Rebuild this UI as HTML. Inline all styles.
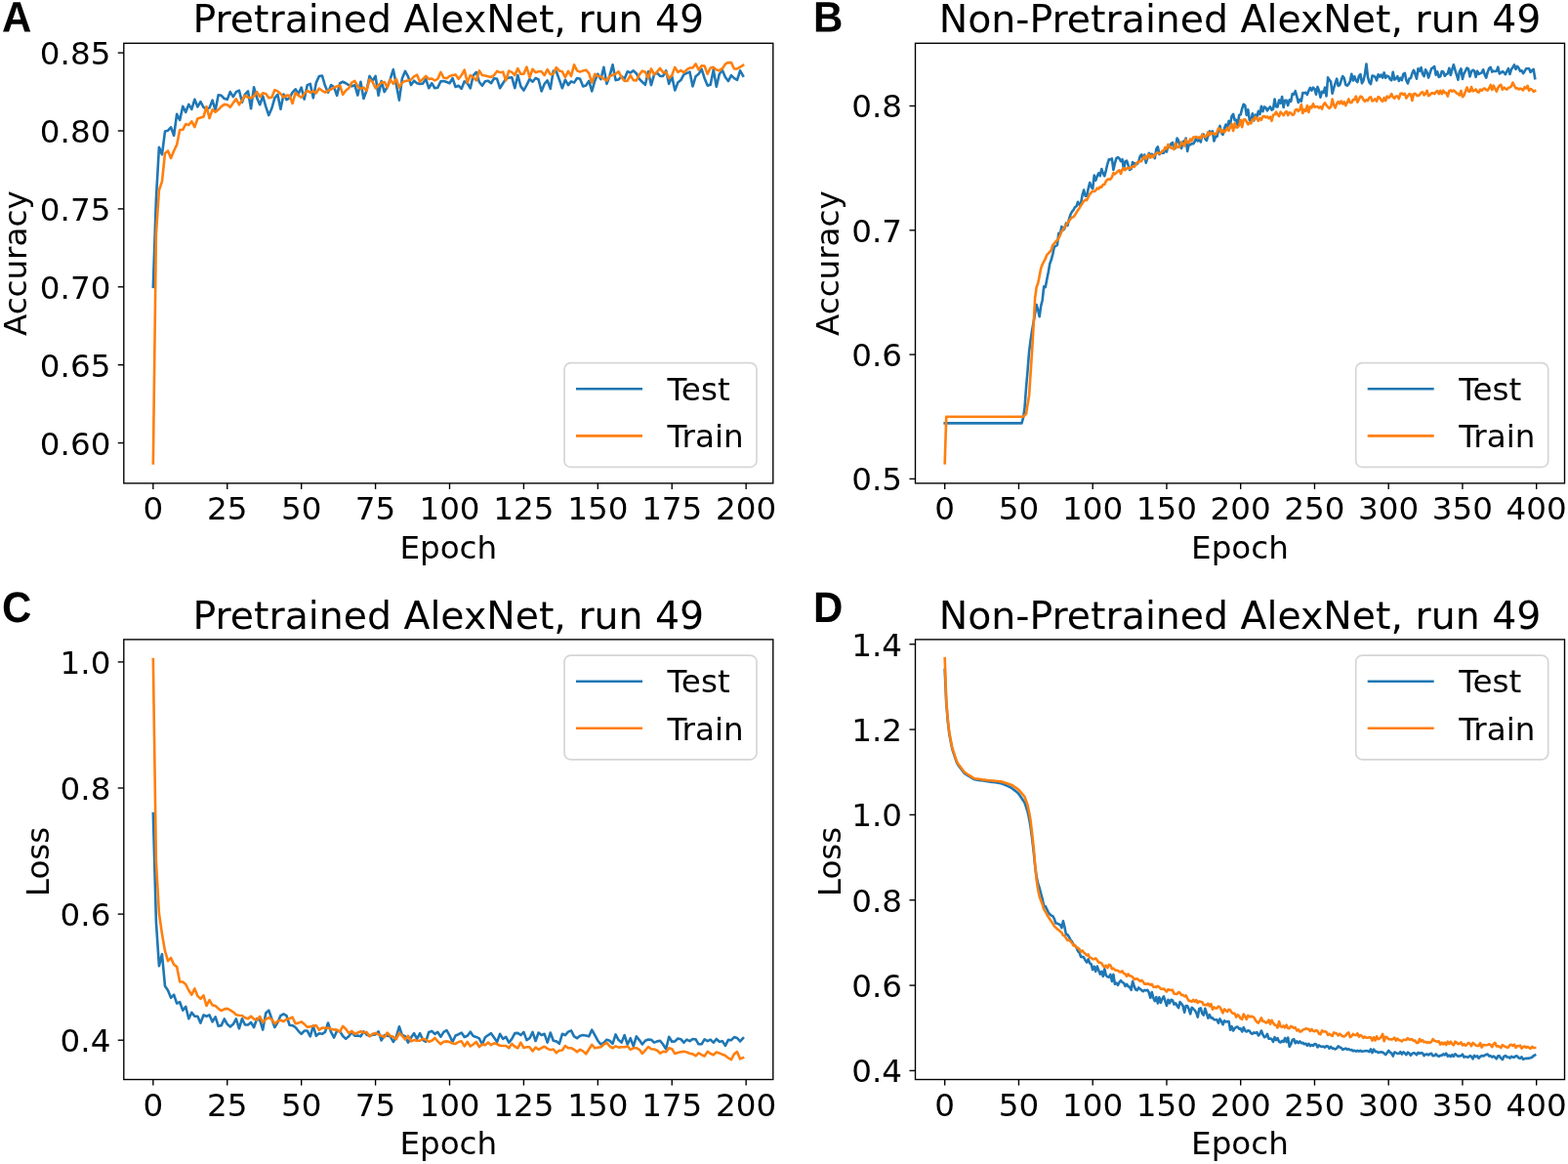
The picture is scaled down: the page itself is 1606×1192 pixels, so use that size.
<!DOCTYPE html>
<html lang="en"><head><meta charset="utf-8"><title>AlexNet training curves, run 49</title>
<style>
html,body{margin:0;padding:0;background:#fff}
svg{display:block}
.t{font-family:"DejaVu Sans","Liberation Sans",sans-serif;font-size:32.6px;fill:#000}
.ti{font-family:"DejaVu Sans","Liberation Sans",sans-serif;font-size:39.4px;fill:#000}
.pl{text-rendering:geometricPrecision;font-family:"Liberation Sans",Arial,Helvetica,sans-serif;font-weight:700;font-size:42.0px;fill:#000}
.tk{stroke:#000;stroke-width:1.38}
.fr{fill:none;stroke:#000;stroke-width:1.38;stroke-linejoin:miter}
</style></head><body>
<svg width="1606" height="1192" viewBox="0 0 1606 1192">
<rect width="1606" height="1192" fill="#fff"/>
<line x1="156.85" y1="494.9" x2="156.85" y2="500.95" class="tk"/>
<text x="156.85" y="532.4" class="t" text-anchor="middle">0</text>
<line x1="232.76" y1="494.9" x2="232.76" y2="500.95" class="tk"/>
<text x="232.76" y="532.4" class="t" text-anchor="middle">25</text>
<line x1="308.68" y1="494.9" x2="308.68" y2="500.95" class="tk"/>
<text x="308.68" y="532.4" class="t" text-anchor="middle">50</text>
<line x1="384.59" y1="494.9" x2="384.59" y2="500.95" class="tk"/>
<text x="384.59" y="532.4" class="t" text-anchor="middle">75</text>
<line x1="460.5" y1="494.9" x2="460.5" y2="500.95" class="tk"/>
<text x="460.5" y="532.4" class="t" text-anchor="middle">100</text>
<line x1="536.41" y1="494.9" x2="536.41" y2="500.95" class="tk"/>
<text x="536.41" y="532.4" class="t" text-anchor="middle">125</text>
<line x1="612.33" y1="494.9" x2="612.33" y2="500.95" class="tk"/>
<text x="612.33" y="532.4" class="t" text-anchor="middle">150</text>
<line x1="688.24" y1="494.9" x2="688.24" y2="500.95" class="tk"/>
<text x="688.24" y="532.4" class="t" text-anchor="middle">175</text>
<line x1="764.15" y1="494.9" x2="764.15" y2="500.95" class="tk"/>
<text x="764.15" y="532.4" class="t" text-anchor="middle">200</text>
<line x1="120.75" y1="453.6" x2="126.8" y2="453.6" class="tk"/>
<text x="113.4" y="465.55" class="t" text-anchor="end">0.60</text>
<line x1="120.75" y1="373.7" x2="126.8" y2="373.7" class="tk"/>
<text x="113.4" y="385.65" class="t" text-anchor="end">0.65</text>
<line x1="120.75" y1="293.8" x2="126.8" y2="293.8" class="tk"/>
<text x="113.4" y="305.75" class="t" text-anchor="end">0.70</text>
<line x1="120.75" y1="213.9" x2="126.8" y2="213.9" class="tk"/>
<text x="113.4" y="225.85" class="t" text-anchor="end">0.75</text>
<line x1="120.75" y1="134" x2="126.8" y2="134" class="tk"/>
<text x="113.4" y="145.95" class="t" text-anchor="end">0.80</text>
<line x1="120.75" y1="54.1" x2="126.8" y2="54.1" class="tk"/>
<text x="113.4" y="66.05" class="t" text-anchor="end">0.85</text>
<rect x="126.8" y="44.3" width="665" height="450.6" class="fr"/>
<text x="459.3" y="33.1" class="ti" text-anchor="middle">Pretrained AlexNet, run 49</text>
<text x="459.3" y="571.8" class="t" text-anchor="middle">Epoch</text>
<text transform="translate(26.9 269.7) rotate(-90)" class="t" text-anchor="middle">Accuracy</text>
<path d="M156.85 293.8 L159.89 204 L162.92 150.69 L165.96 158.24 L169 134.58 L172.03 133.7 L175.07 130.3 L178.11 138.74 L181.14 116.71 L184.18 123 L187.22 108.9 L190.25 114.82 L193.29 106.89 L196.32 111.93 L199.36 101.86 L202.4 109.41 L205.43 104.12 L208.47 109.79 L211.51 111.67 L214.54 110.42 L217.58 102.61 L220.62 112.93 L223.65 97.2 L226.69 97.83 L229.73 100.98 L232.76 101.86 L235.8 94.05 L238.84 99.09 L241.87 94.05 L244.91 92.54 L247.94 104.75 L250.98 96.57 L254.02 93.42 L257.05 111.3 L260.09 89.27 L263.13 100.35 L266.16 107.27 L269.2 98.46 L272.24 109.16 L275.27 117.97 L278.31 111.04 L281.35 100.35 L284.38 96.82 L287.42 111.67 L290.46 96.57 L293.49 102.23 L296.53 100.35 L299.57 94.68 L302.6 91.28 L305.64 95.94 L308.68 89.65 L311.71 101.6 L314.75 87.13 L317.78 85.87 L320.82 100.35 L323.86 84.61 L326.89 77.94 L329.93 77.44 L332.97 87.76 L336 94.68 L339.04 87.13 L342.08 89.02 L345.11 97.83 L348.15 85.24 L351.19 83.73 L354.22 85.24 L357.26 87.13 L360.3 88.39 L363.33 87.13 L366.37 97.58 L369.4 83.73 L372.44 100.98 L375.48 92.79 L378.51 77.94 L381.55 82.98 L384.59 77.94 L387.62 97.83 L390.66 82.98 L393.7 94.05 L396.73 89.02 L399.77 80.84 L402.81 71.15 L405.84 86.5 L408.88 102.61 L411.92 80.21 L414.95 72.91 L417.99 78.32 L421.03 87.13 L424.06 82.72 L427.1 85.24 L430.13 85.87 L433.17 85.49 L436.21 80.84 L439.24 90.28 L442.28 85.24 L445.32 90.28 L448.35 89.65 L451.39 83.35 L454.43 82.98 L457.46 83.98 L460.5 85.24 L463.54 80.21 L466.57 89.02 L469.61 87.76 L472.65 90.91 L475.68 83.35 L478.72 85.24 L481.76 90.28 L484.79 77.06 L487.83 73.91 L490.87 83.98 L493.9 87.76 L496.94 83.35 L499.97 82.72 L503.01 85.24 L506.05 80.21 L509.08 80.84 L512.12 90.28 L515.16 85.24 L518.19 80.84 L521.23 79.58 L524.27 79.2 L527.3 90.28 L530.34 77.06 L533.38 88.39 L536.41 92.54 L539.45 87.13 L542.49 80.84 L545.52 83.73 L548.56 79.96 L551.6 81.47 L554.63 93.42 L557.67 85.87 L560.7 82.47 L563.74 90.91 L566.78 72.66 L569.81 73.29 L572.85 81.47 L575.89 90.28 L578.92 81.72 L581.96 87.13 L585 83.35 L588.03 84.61 L591.07 79.96 L594.11 80.84 L597.14 88.39 L600.18 87.51 L603.22 82.98 L606.25 93.42 L609.29 82.72 L612.33 75.8 L615.36 81.21 L618.4 68.88 L621.43 85.87 L624.47 77.69 L627.51 66.36 L630.54 82.1 L633.58 81.47 L636.62 78.32 L639.65 80.84 L642.69 73.29 L645.73 74.54 L648.76 72.4 L651.8 75.17 L654.84 80.84 L657.87 83.98 L660.91 86.75 L663.95 73.29 L666.98 87.13 L670.02 76.43 L673.06 74.54 L676.09 77.94 L679.13 77.94 L682.16 72.4 L685.2 85.87 L688.24 78.32 L691.27 92.54 L694.31 84.61 L697.35 82.1 L700.38 76.43 L703.42 74.86 L706.46 73.6 L709.49 88.39 L712.53 78.32 L715.57 75.8 L718.6 70.77 L721.64 80.21 L724.68 87.63 L727.71 86.82 L730.75 71.4 L733.79 88.7 L736.82 75.8 L739.86 72.03 L742.89 78.95 L745.93 83.04 L748.97 77.06 L752 80.21 L755.04 81.97 L758.08 72.34 L761.11 77.69" fill="none" stroke="#1f77b4" stroke-width="2.6" stroke-linejoin="round" stroke-linecap="square"/>
<path d="M156.85 474.37 L159.89 240 L162.92 194.75 L165.96 185.93 L169 156.99 L172.03 154.47 L175.07 162.02 L178.11 154.47 L181.14 148.17 L184.18 133.07 L187.22 132.82 L190.25 127.03 L193.29 128.04 L196.32 124.26 L199.36 130.18 L202.4 121.49 L205.43 120.48 L208.47 119.6 L211.51 109.16 L214.54 121.11 L217.58 112.3 L220.62 114.82 L223.65 112.3 L226.69 109.16 L229.73 106.89 L232.76 107.27 L235.8 109.79 L238.84 105.38 L241.87 101.35 L244.91 107.27 L247.94 102.86 L250.98 97.83 L254.02 99.72 L257.05 100.35 L260.09 98.46 L263.13 94.05 L266.16 99.09 L269.2 95.31 L272.24 95.94 L275.27 100.35 L278.31 99.72 L281.35 92.16 L284.38 93.42 L287.42 95.94 L290.46 99.72 L293.49 97.58 L296.53 97.83 L299.57 106.01 L302.6 95.06 L305.64 97.83 L308.68 99.72 L311.71 95.94 L314.75 92.79 L317.78 94.68 L320.82 93.42 L323.86 95.31 L326.89 90.53 L329.93 92.79 L332.97 94.68 L336 92.79 L339.04 91.54 L342.08 89.65 L345.11 88.39 L348.15 87.51 L351.19 96.82 L354.22 92.79 L357.26 90.28 L360.3 84.61 L363.33 82.98 L366.37 88.39 L369.4 90.91 L372.44 89.65 L375.48 92.79 L378.51 81.47 L381.55 83.73 L384.59 90.28 L387.62 87.13 L390.66 84.61 L393.7 83.98 L396.73 89.65 L399.77 81.47 L402.81 85.87 L405.84 80.84 L408.88 89.65 L411.92 84.61 L414.95 82.98 L417.99 82.47 L421.03 81.47 L424.06 78.32 L427.1 76.68 L430.13 83.73 L433.17 80.84 L436.21 77.94 L439.24 80.84 L442.28 80.46 L445.32 82.47 L448.35 80.84 L451.39 73.91 L454.43 79.58 L457.46 80.21 L460.5 77.94 L463.54 77.06 L466.57 76.43 L469.61 80.84 L472.65 77.06 L475.68 71.65 L478.72 84.61 L481.76 77.06 L484.79 79.2 L487.83 82.47 L490.87 72.4 L493.9 77.06 L496.94 77.44 L499.97 78.32 L503.01 78.95 L506.05 77.06 L509.08 72.91 L512.12 74.17 L515.16 73.66 L518.19 82.47 L521.23 72.66 L524.27 73.91 L527.3 77.06 L530.34 70.14 L533.38 75.8 L536.41 75.8 L539.45 68.63 L542.49 79.2 L545.52 70.77 L548.56 74.17 L551.6 73.29 L554.63 73.29 L557.67 77.06 L560.7 71.15 L563.74 76.18 L566.78 75.8 L569.81 69.13 L572.85 72.4 L575.89 73.29 L578.92 79.2 L581.96 72.91 L585 77.94 L588.03 66.36 L591.07 72.4 L594.11 73.66 L597.14 72.4 L600.18 71.65 L603.22 75.17 L606.25 84.61 L609.29 75.8 L612.33 77.94 L615.36 78.32 L618.4 80.84 L621.43 82.47 L624.47 78.32 L627.51 76.68 L630.54 75.8 L633.58 73.29 L636.62 79.2 L639.65 82.98 L642.69 82.72 L645.73 77.06 L648.76 82.1 L651.8 82.47 L654.84 76.43 L657.87 72.66 L660.91 73.66 L663.95 80.21 L666.98 70.39 L670.02 76.43 L673.06 73.29 L676.09 69.89 L679.13 74.17 L682.16 73.91 L685.2 80.21 L688.24 77.06 L691.27 68.88 L694.31 73.91 L697.35 72.03 L700.38 74.23 L703.42 71.4 L706.46 69.51 L709.49 69.51 L712.53 65.42 L715.57 71.4 L718.6 67.31 L721.64 67.62 L724.68 75.8 L727.71 69.51 L730.75 68.88 L733.79 71.4 L736.82 72.34 L739.86 70.14 L742.89 65.73 L745.93 63.97 L748.97 64.16 L752 70.45 L755.04 70.45 L758.08 68.57 L761.11 66.87" fill="none" stroke="#ff7f0e" stroke-width="2.6" stroke-linejoin="round" stroke-linecap="square"/>
<rect x="578" y="371.7" width="197" height="106.7" rx="6.5" ry="6.5" fill="#fff" fill-opacity="0.8" stroke="#ccc" stroke-opacity="0.8" stroke-width="1.7"/>
<line x1="590" y1="398.3" x2="658" y2="398.3" stroke="#1f77b4" stroke-width="2.6" stroke-linecap="butt"/>
<line x1="590" y1="446.4" x2="658" y2="446.4" stroke="#ff7f0e" stroke-width="2.6" stroke-linecap="butt"/>
<text x="683.5" y="409.9" class="t">Test</text>
<text x="683.5" y="458.1" class="t">Train</text>
<text transform="translate(2 32.4) rotate(0.03) scale(1 1.048)" class="pl">A</text>
<line x1="156.85" y1="1105.5" x2="156.85" y2="1111.55" class="tk"/>
<text x="156.85" y="1143" class="t" text-anchor="middle">0</text>
<line x1="232.76" y1="1105.5" x2="232.76" y2="1111.55" class="tk"/>
<text x="232.76" y="1143" class="t" text-anchor="middle">25</text>
<line x1="308.68" y1="1105.5" x2="308.68" y2="1111.55" class="tk"/>
<text x="308.68" y="1143" class="t" text-anchor="middle">50</text>
<line x1="384.59" y1="1105.5" x2="384.59" y2="1111.55" class="tk"/>
<text x="384.59" y="1143" class="t" text-anchor="middle">75</text>
<line x1="460.5" y1="1105.5" x2="460.5" y2="1111.55" class="tk"/>
<text x="460.5" y="1143" class="t" text-anchor="middle">100</text>
<line x1="536.41" y1="1105.5" x2="536.41" y2="1111.55" class="tk"/>
<text x="536.41" y="1143" class="t" text-anchor="middle">125</text>
<line x1="612.33" y1="1105.5" x2="612.33" y2="1111.55" class="tk"/>
<text x="612.33" y="1143" class="t" text-anchor="middle">150</text>
<line x1="688.24" y1="1105.5" x2="688.24" y2="1111.55" class="tk"/>
<text x="688.24" y="1143" class="t" text-anchor="middle">175</text>
<line x1="764.15" y1="1105.5" x2="764.15" y2="1111.55" class="tk"/>
<text x="764.15" y="1143" class="t" text-anchor="middle">200</text>
<line x1="120.75" y1="1065.2" x2="126.8" y2="1065.2" class="tk"/>
<text x="113.4" y="1077.15" class="t" text-anchor="end">0.4</text>
<line x1="120.75" y1="936.1" x2="126.8" y2="936.1" class="tk"/>
<text x="113.4" y="948.05" class="t" text-anchor="end">0.6</text>
<line x1="120.75" y1="807" x2="126.8" y2="807" class="tk"/>
<text x="113.4" y="818.95" class="t" text-anchor="end">0.8</text>
<line x1="120.75" y1="677.9" x2="126.8" y2="677.9" class="tk"/>
<text x="113.4" y="689.85" class="t" text-anchor="end">1.0</text>
<rect x="126.8" y="654.9" width="665" height="450.6" class="fr"/>
<text x="459.3" y="643.7" class="ti" text-anchor="middle">Pretrained AlexNet, run 49</text>
<text x="459.3" y="1182.4" class="t" text-anchor="middle">Epoch</text>
<text transform="translate(50.2 882.4) rotate(-90)" class="t" text-anchor="middle">Loss</text>
<path d="M156.85 833 L159.89 943.8 L162.92 989.09 L165.96 977.13 L169 1009.86 L172.03 1014.26 L175.07 1021.81 L178.11 1018.67 L181.14 1027.48 L184.18 1026.22 L187.22 1034.65 L190.25 1030.87 L193.29 1043.21 L196.32 1036.92 L199.36 1040.69 L202.4 1040.69 L205.43 1047.61 L208.47 1039.43 L211.51 1040.69 L214.54 1039.43 L217.58 1046.36 L220.62 1041.32 L223.65 1050.76 L226.69 1050.13 L229.73 1043.46 L232.76 1048.87 L235.8 1051.39 L238.84 1048.87 L241.87 1043.46 L244.91 1053.28 L247.94 1043.21 L250.98 1049.5 L254.02 1049.5 L257.05 1046.99 L260.09 1052.02 L263.13 1043.21 L266.16 1044.47 L269.2 1054.54 L272.24 1037.55 L275.27 1034.65 L278.31 1043.21 L281.35 1052.02 L284.38 1046.99 L287.42 1040.06 L290.46 1038.43 L293.49 1040.06 L296.53 1049.75 L299.57 1050.13 L302.6 1052.02 L305.64 1055.8 L308.68 1058.94 L311.71 1055.54 L314.75 1055.54 L317.78 1061.46 L320.82 1050.76 L323.86 1060.83 L326.89 1058.31 L329.93 1058.8 L332.97 1056.92 L336 1047.48 L339.04 1056.92 L342.08 1062.58 L345.11 1055.66 L348.15 1056.29 L351.19 1060.94 L354.22 1063.84 L357.26 1061.32 L360.3 1056.92 L363.33 1060.69 L366.37 1060.44 L369.4 1061.32 L372.44 1056.29 L375.48 1059.43 L378.51 1060.69 L381.55 1059.69 L384.59 1059.43 L387.62 1056.29 L390.66 1065.48 L393.7 1060.06 L396.73 1060.69 L399.77 1061.32 L402.81 1066.99 L405.84 1061.95 L408.88 1051.25 L411.92 1060.06 L414.95 1061.32 L417.99 1067.61 L421.03 1062.58 L424.06 1058.17 L427.1 1063.84 L430.13 1058.17 L433.17 1065.1 L436.21 1066.73 L439.24 1056.92 L442.28 1055.91 L445.32 1058.8 L448.35 1056.92 L451.39 1061.7 L454.43 1056.92 L457.46 1055.03 L460.5 1060.44 L463.54 1066.99 L466.57 1060.44 L469.61 1059.18 L472.65 1057.55 L475.68 1061.95 L478.72 1060.69 L481.76 1056.66 L484.79 1060.94 L487.83 1061.95 L490.87 1063.46 L493.9 1069.5 L496.94 1062.2 L499.97 1060.06 L503.01 1058.17 L506.05 1062.58 L509.08 1066.99 L512.12 1058.8 L515.16 1063.84 L518.19 1061.95 L521.23 1067.61 L524.27 1063.84 L527.3 1058.17 L530.34 1057.92 L533.38 1060.06 L536.41 1056.92 L539.45 1065.1 L542.49 1063.21 L545.52 1056.92 L548.56 1065.98 L551.6 1057.55 L554.63 1060.06 L557.67 1058.8 L560.7 1067.61 L563.74 1057.55 L566.78 1065.73 L569.81 1066.36 L572.85 1068.87 L575.89 1058.8 L578.92 1060.06 L581.96 1056.66 L585 1055.41 L588.03 1061.32 L591.07 1063.21 L594.11 1060.69 L597.14 1060.06 L600.18 1060.44 L603.22 1061.32 L606.25 1054.65 L609.29 1060.06 L612.33 1065.73 L615.36 1069.5 L618.4 1067.99 L621.43 1064.72 L624.47 1065.73 L627.51 1068.87 L630.54 1059.43 L633.58 1065.1 L636.62 1067.61 L639.65 1060.06 L642.69 1069.5 L645.73 1063.21 L648.76 1071.39 L651.8 1061.32 L654.84 1065.1 L657.87 1069.5 L660.91 1065.73 L663.95 1064.47 L666.98 1064.72 L670.02 1067.61 L673.06 1066.36 L676.09 1065.73 L679.13 1069.5 L682.16 1074.29 L685.2 1061.7 L688.24 1066.73 L691.27 1066.36 L694.31 1063.46 L697.35 1064.22 L700.38 1067.72 L703.42 1064.58 L706.46 1066.15 L709.49 1063.95 L712.53 1064.26 L715.57 1069.3 L718.6 1069.3 L721.64 1064.26 L724.68 1066.15 L727.71 1064.58 L730.75 1067.72 L733.79 1063.95 L736.82 1066.78 L739.86 1066.15 L742.89 1070.87 L745.93 1064.89 L748.97 1065.21 L752 1062.06 L755.04 1063.01 L758.08 1066.47 L761.11 1063.01" fill="none" stroke="#1f77b4" stroke-width="2.6" stroke-linejoin="round" stroke-linecap="square"/>
<path d="M156.85 675 L159.89 881.8 L162.92 935.22 L165.96 956.36 L169 973.98 L172.03 984.05 L175.07 980.91 L178.11 987.83 L181.14 990.09 L184.18 1005.45 L187.22 1005.45 L190.25 1007.97 L193.29 1014.26 L196.32 1018.67 L199.36 1012.37 L202.4 1019.92 L205.43 1022.82 L208.47 1019.3 L211.51 1029.99 L214.54 1024.08 L217.58 1029.36 L220.62 1029.99 L223.65 1032.89 L226.69 1035.03 L229.73 1033.39 L232.76 1032.89 L235.8 1034.4 L238.84 1036.29 L241.87 1039.18 L244.91 1039.69 L247.94 1040.06 L250.98 1042.2 L254.02 1043.21 L257.05 1040.69 L260.09 1043.46 L263.13 1044.47 L266.16 1040.94 L269.2 1046.99 L272.24 1043.84 L275.27 1042.2 L278.31 1043.84 L281.35 1048.24 L284.38 1045.73 L287.42 1044.72 L290.46 1045.98 L293.49 1043.84 L296.53 1042.96 L299.57 1041.7 L302.6 1048.24 L305.64 1047.61 L308.68 1046.36 L311.71 1048.87 L314.75 1051.77 L317.78 1051.39 L320.82 1050.51 L323.86 1050.13 L326.89 1054.79 L329.93 1052.51 L332.97 1052.89 L336 1052.51 L339.04 1053.77 L342.08 1054.4 L345.11 1054.65 L348.15 1056.66 L351.19 1050.87 L354.22 1053.77 L357.26 1057.92 L360.3 1055.91 L363.33 1058.8 L366.37 1057.55 L369.4 1056.29 L372.44 1057.55 L375.48 1056.92 L378.51 1061.32 L381.55 1058.8 L384.59 1057.92 L387.62 1059.43 L390.66 1060.69 L393.7 1062.2 L396.73 1057.55 L399.77 1060.69 L402.81 1061.7 L405.84 1064.22 L408.88 1057.92 L411.92 1060.69 L414.95 1064.47 L417.99 1060.69 L421.03 1066.36 L424.06 1065.1 L427.1 1065.73 L430.13 1065.73 L433.17 1063.84 L436.21 1064.72 L439.24 1066.73 L442.28 1065.73 L445.32 1062.96 L448.35 1066.36 L451.39 1069.25 L454.43 1066.73 L457.46 1066.36 L460.5 1066.99 L463.54 1068.5 L466.57 1068.87 L469.61 1066.99 L472.65 1066.36 L475.68 1071.39 L478.72 1066.99 L481.76 1071.39 L484.79 1069.5 L487.83 1066.99 L490.87 1072.02 L493.9 1069.5 L496.94 1070.13 L499.97 1067.61 L503.01 1070.13 L506.05 1068.24 L509.08 1069.25 L512.12 1070.76 L515.16 1071.01 L518.19 1071.01 L521.23 1073.28 L524.27 1068.87 L527.3 1071.77 L530.34 1073.28 L533.38 1067.61 L536.41 1073.03 L539.45 1072.27 L542.49 1072.27 L545.52 1076.43 L548.56 1072.65 L551.6 1074.79 L554.63 1073.03 L557.67 1071.77 L560.7 1073.91 L563.74 1075.17 L566.78 1074.54 L569.81 1078.31 L572.85 1075.8 L575.89 1075.54 L578.92 1071.01 L581.96 1073.28 L585 1073.28 L588.03 1074.79 L591.07 1077.31 L594.11 1074.79 L597.14 1076.43 L600.18 1079.32 L603.22 1074.54 L606.25 1069.75 L609.29 1073.28 L612.33 1072.65 L615.36 1072.27 L618.4 1069.75 L621.43 1067.99 L624.47 1071.39 L627.51 1073.28 L630.54 1071.39 L633.58 1072.65 L636.62 1072.27 L639.65 1072.27 L642.69 1071.39 L645.73 1074.79 L648.76 1073.28 L651.8 1073.28 L654.84 1074.79 L657.87 1078.94 L660.91 1075.54 L663.95 1072.02 L666.98 1074.29 L670.02 1074.54 L673.06 1075.8 L676.09 1078.57 L679.13 1076.8 L682.16 1077.31 L685.2 1073.28 L688.24 1074.29 L691.27 1078.94 L694.31 1078.06 L697.35 1077.31 L700.38 1076.85 L703.42 1077.48 L706.46 1078.74 L709.49 1079.37 L712.53 1081.26 L715.57 1078.42 L718.6 1080.19 L721.64 1081.44 L724.68 1076.85 L727.71 1079.05 L730.75 1080.31 L733.79 1077.48 L736.82 1078.42 L739.86 1079.81 L742.89 1081.07 L745.93 1083.46 L748.97 1085.03 L752 1079.37 L755.04 1077.16 L758.08 1084.4 L761.11 1083.14" fill="none" stroke="#ff7f0e" stroke-width="2.6" stroke-linejoin="round" stroke-linecap="square"/>
<rect x="578" y="671.1" width="197" height="106.7" rx="6.5" ry="6.5" fill="#fff" fill-opacity="0.8" stroke="#ccc" stroke-opacity="0.8" stroke-width="1.7"/>
<line x1="590" y1="697.7" x2="658" y2="697.7" stroke="#1f77b4" stroke-width="2.6" stroke-linecap="butt"/>
<line x1="590" y1="745.8" x2="658" y2="745.8" stroke="#ff7f0e" stroke-width="2.6" stroke-linecap="butt"/>
<text x="683.5" y="709.3" class="t">Test</text>
<text x="683.5" y="757.5" class="t">Train</text>
<text transform="translate(2.1 637) rotate(0.03) scale(1 1.048)" class="pl">C</text>
<line x1="967.7" y1="494.9" x2="967.7" y2="500.95" class="tk"/>
<text x="967.7" y="532.4" class="t" text-anchor="middle">0</text>
<line x1="1043.45" y1="494.9" x2="1043.45" y2="500.95" class="tk"/>
<text x="1043.45" y="532.4" class="t" text-anchor="middle">50</text>
<line x1="1119.2" y1="494.9" x2="1119.2" y2="500.95" class="tk"/>
<text x="1119.2" y="532.4" class="t" text-anchor="middle">100</text>
<line x1="1194.95" y1="494.9" x2="1194.95" y2="500.95" class="tk"/>
<text x="1194.95" y="532.4" class="t" text-anchor="middle">150</text>
<line x1="1270.7" y1="494.9" x2="1270.7" y2="500.95" class="tk"/>
<text x="1270.7" y="532.4" class="t" text-anchor="middle">200</text>
<line x1="1346.45" y1="494.9" x2="1346.45" y2="500.95" class="tk"/>
<text x="1346.45" y="532.4" class="t" text-anchor="middle">250</text>
<line x1="1422.2" y1="494.9" x2="1422.2" y2="500.95" class="tk"/>
<text x="1422.2" y="532.4" class="t" text-anchor="middle">300</text>
<line x1="1497.95" y1="494.9" x2="1497.95" y2="500.95" class="tk"/>
<text x="1497.95" y="532.4" class="t" text-anchor="middle">350</text>
<line x1="1573.7" y1="494.9" x2="1573.7" y2="500.95" class="tk"/>
<text x="1573.7" y="532.4" class="t" text-anchor="middle">400</text>
<line x1="931.45" y1="490.4" x2="937.5" y2="490.4" class="tk"/>
<text x="924.1" y="502.35" class="t" text-anchor="end">0.5</text>
<line x1="931.45" y1="363.1" x2="937.5" y2="363.1" class="tk"/>
<text x="924.1" y="375.05" class="t" text-anchor="end">0.6</text>
<line x1="931.45" y1="235.8" x2="937.5" y2="235.8" class="tk"/>
<text x="924.1" y="247.75" class="t" text-anchor="end">0.7</text>
<line x1="931.45" y1="108.5" x2="937.5" y2="108.5" class="tk"/>
<text x="924.1" y="120.45" class="t" text-anchor="end">0.8</text>
<rect x="937.5" y="44.3" width="665" height="450.6" class="fr"/>
<text x="1270" y="33.1" class="ti" text-anchor="middle">Non-Pretrained AlexNet, run 49</text>
<text x="1270" y="571.8" class="t" text-anchor="middle">Epoch</text>
<text transform="translate(858.7 269.6) rotate(-90)" class="t" text-anchor="middle">Accuracy</text>
<path d="M967.7 433.4 L969.22 433.4 L970.73 433.4 L972.25 433.4 L973.76 433.4 L975.28 433.4 L976.79 433.4 L978.31 433.4 L979.82 433.4 L981.34 433.4 L982.85 433.4 L984.37 433.4 L985.88 433.4 L987.4 433.4 L988.91 433.4 L990.43 433.4 L991.94 433.4 L993.46 433.4 L994.97 433.4 L996.49 433.4 L998 433.4 L999.52 433.4 L1001.03 433.4 L1002.55 433.4 L1004.06 433.4 L1005.58 433.4 L1007.09 433.4 L1008.61 433.4 L1010.12 433.4 L1011.63 433.4 L1013.15 433.4 L1014.67 433.4 L1016.18 433.4 L1017.7 433.4 L1019.21 433.4 L1020.73 433.4 L1022.24 433.4 L1023.75 433.4 L1025.27 433.4 L1026.79 433.4 L1028.3 433.4 L1029.82 433.4 L1031.33 433.4 L1032.85 433.4 L1034.36 433.4 L1035.88 433.4 L1037.39 433.4 L1038.9 433.4 L1040.42 433.4 L1041.93 433.4 L1043.45 433.4 L1044.97 433.4 L1046.48 433.4 L1048 427.87 L1049.51 417.72 L1051.03 396.77 L1052.54 379.68 L1054.06 360.09 L1055.57 348.48 L1057.09 338.46 L1058.6 330 L1060.12 321.09 L1061.63 312.12 L1063.14 317.27 L1064.66 324.28 L1066.17 313.32 L1067.69 307.23 L1069.2 293.24 L1070.72 294.16 L1072.24 286.18 L1073.75 278.74 L1075.27 270.03 L1076.78 266.08 L1078.3 260.12 L1079.81 252.92 L1081.33 251.92 L1082.84 250.99 L1084.36 238.84 L1085.87 239.58 L1087.38 231.97 L1088.9 235.59 L1090.41 234.01 L1091.93 228.69 L1093.44 230.96 L1094.96 224.47 L1096.48 219.66 L1097.99 216.72 L1099.51 215.02 L1101.02 212.12 L1102.54 211.24 L1104.05 206.78 L1105.57 209.67 L1107.08 208.31 L1108.6 199.85 L1110.11 194.48 L1111.62 200.72 L1113.14 200.76 L1114.65 193.29 L1116.17 186.98 L1117.68 191.16 L1119.2 193.25 L1120.72 179.55 L1122.23 184.85 L1123.75 180.58 L1125.26 177.28 L1126.78 180.09 L1128.29 172.97 L1129.81 177.46 L1131.32 180.26 L1132.84 174.33 L1134.35 167.79 L1135.87 163.13 L1137.38 163.56 L1138.89 162.39 L1140.41 173.99 L1141.92 167.11 L1143.44 162.15 L1144.95 161.05 L1146.47 162.35 L1147.99 165.06 L1149.5 163.24 L1151.02 173.48 L1152.53 165.48 L1154.05 164.54 L1155.56 169.2 L1157.08 173.99 L1158.59 173.01 L1160.11 165.99 L1161.62 167.85 L1163.13 167.29 L1164.65 167.95 L1166.16 165.81 L1167.68 160.14 L1169.19 158.33 L1170.71 162.54 L1172.22 158.56 L1173.74 166.83 L1175.26 161.82 L1176.77 156.82 L1178.29 158.51 L1179.8 157.79 L1181.32 159.24 L1182.83 162.08 L1184.35 152.5 L1185.86 150.29 L1187.38 158.09 L1188.89 156.52 L1190.4 156.72 L1191.92 156.66 L1193.43 153.75 L1194.95 155.49 L1196.47 148.7 L1197.98 150.69 L1199.5 147.12 L1201.01 145.99 L1202.53 152.36 L1204.04 151.47 L1205.56 141.58 L1207.07 143.71 L1208.59 149.46 L1210.1 151.79 L1211.62 144.96 L1213.13 144.87 L1214.64 141.53 L1216.16 154.85 L1217.67 148.28 L1219.19 148.25 L1220.7 147.05 L1222.22 147.26 L1223.74 145.09 L1225.25 141.3 L1226.77 144.36 L1228.28 142.4 L1229.8 145.49 L1231.31 137.72 L1232.83 137.57 L1234.34 142.05 L1235.86 143.88 L1237.37 138.64 L1238.88 134.36 L1240.4 135.2 L1241.91 134.45 L1243.43 144.56 L1244.95 140.22 L1246.46 139.82 L1247.97 133.73 L1249.49 128.91 L1251.01 136.16 L1252.52 137.87 L1254.04 131.46 L1255.55 127.47 L1257.07 130.73 L1258.58 123.92 L1260.1 126.8 L1261.61 119.07 L1263.12 116.85 L1264.64 123.16 L1266.15 122.89 L1267.67 128.21 L1269.18 117.97 L1270.7 117.32 L1272.22 111.16 L1273.73 106.75 L1275.24 107.91 L1276.76 117.88 L1278.28 112.31 L1279.79 122.7 L1281.31 123.95 L1282.82 116.29 L1284.34 123.45 L1285.85 117.52 L1287.37 119.73 L1288.88 113.75 L1290.39 117.1 L1291.91 108.79 L1293.42 114.19 L1294.94 109.42 L1296.45 110.3 L1297.97 113.43 L1299.49 110.92 L1301 109.35 L1302.52 112.65 L1304.03 111.65 L1305.55 101.47 L1307.06 109.22 L1308.58 109.46 L1310.09 102.58 L1311.61 105.72 L1313.12 98.99 L1314.63 109.99 L1316.15 102.85 L1317.66 102.78 L1319.18 108.03 L1320.7 102.27 L1322.21 103.81 L1323.72 96.08 L1325.24 96.63 L1326.76 93.21 L1328.27 98.95 L1329.79 104.94 L1331.3 101.74 L1332.82 103.72 L1334.33 95.11 L1335.85 95.26 L1337.36 94.82 L1338.88 96.86 L1340.39 92.99 L1341.9 89.95 L1343.42 92.72 L1344.93 89.66 L1346.45 90.93 L1347.97 96.72 L1349.48 88.94 L1350.99 92.76 L1352.51 99.66 L1354.03 93.72 L1355.54 94.89 L1357.06 89.7 L1358.57 98.48 L1360.09 79.34 L1361.6 81.81 L1363.12 83.86 L1364.63 95.75 L1366.14 90.13 L1367.66 85.16 L1369.17 80.62 L1370.69 87.87 L1372.2 87.01 L1373.72 82.3 L1375.24 78 L1376.75 80.1 L1378.27 86.76 L1379.78 87.76 L1381.3 86.16 L1382.81 83.35 L1384.33 75.73 L1385.84 82.49 L1387.36 78.27 L1388.87 82.58 L1390.38 84.03 L1391.9 77.86 L1393.41 76.06 L1394.93 85.27 L1396.44 82.68 L1397.96 75.99 L1399.47 65.47 L1400.99 78.98 L1402.51 84.32 L1404.02 86.05 L1405.54 77.46 L1407.05 77.74 L1408.57 78.85 L1410.08 82.39 L1411.6 76.28 L1413.11 78.65 L1414.62 76.65 L1416.14 79.55 L1417.65 74.42 L1419.17 79.84 L1420.68 77.61 L1422.2 78.37 L1423.72 81.2 L1425.23 82.33 L1426.74 73.76 L1428.26 81.57 L1429.78 80.66 L1431.29 78.09 L1432.81 82.95 L1434.32 79.77 L1435.84 82.15 L1437.35 75.84 L1438.87 74.84 L1440.38 82.18 L1441.89 85.51 L1443.41 80.58 L1444.92 80.12 L1446.44 75.01 L1447.95 71.81 L1449.47 75.82 L1450.99 80.68 L1452.5 70.21 L1454.01 72.79 L1455.53 69.15 L1457.05 75.71 L1458.56 78.16 L1460.08 71.36 L1461.59 73.93 L1463.11 79.57 L1464.62 74.93 L1466.13 70.34 L1467.65 69.31 L1469.16 68.02 L1470.68 76.73 L1472.19 73.38 L1473.71 78.88 L1475.22 78.35 L1476.74 73.06 L1478.26 73.43 L1479.77 77.73 L1481.28 76.15 L1482.8 75.4 L1484.32 69.79 L1485.83 76.94 L1487.35 71.2 L1488.86 66.23 L1490.38 71.69 L1491.89 76.55 L1493.4 81.63 L1494.92 73.3 L1496.43 70.3 L1497.95 80.91 L1499.47 75.29 L1500.98 72.62 L1502.49 69.66 L1504.01 70.6 L1505.53 78.47 L1507.04 73.36 L1508.56 71.72 L1510.07 72.57 L1511.59 78.85 L1513.1 72.78 L1514.62 75.93 L1516.13 75.18 L1517.64 74.47 L1519.16 71.24 L1520.67 76.43 L1522.19 79.61 L1523.7 73.86 L1525.22 69.98 L1526.74 68.9 L1528.25 73.62 L1529.76 72.66 L1531.28 73.05 L1532.8 72.85 L1534.31 68.66 L1535.83 75.55 L1537.34 74.43 L1538.86 73.16 L1540.37 74.24 L1541.88 76.25 L1543.4 73.01 L1544.91 70.22 L1546.43 76 L1547.95 71.05 L1549.46 68.89 L1550.97 66.39 L1552.49 70.88 L1554.01 67.96 L1555.52 69.6 L1557.03 72.85 L1558.55 72.28 L1560.07 75.26 L1561.58 72.97 L1563.1 70.32 L1564.61 70.26 L1566.12 70.21 L1567.64 73.92 L1569.15 72.12 L1570.67 70.94 L1572.18 80.2" fill="none" stroke="#1f77b4" stroke-width="2.6" stroke-linejoin="round" stroke-linecap="square"/>
<path d="M967.7 474.3 L969.22 426.7 L970.73 426.7 L972.25 426.7 L973.76 426.7 L975.28 426.7 L976.79 426.7 L978.31 426.7 L979.82 426.7 L981.34 426.7 L982.85 426.7 L984.37 426.7 L985.88 426.7 L987.4 426.7 L988.91 426.7 L990.43 426.7 L991.94 426.7 L993.46 426.7 L994.97 426.7 L996.49 426.7 L998 426.7 L999.52 426.7 L1001.03 426.7 L1002.55 426.7 L1004.06 426.7 L1005.58 426.7 L1007.09 426.7 L1008.61 426.7 L1010.12 426.7 L1011.63 426.7 L1013.15 426.7 L1014.67 426.7 L1016.18 426.7 L1017.7 426.7 L1019.21 426.7 L1020.73 426.7 L1022.24 426.7 L1023.75 426.7 L1025.27 426.7 L1026.79 426.7 L1028.3 426.7 L1029.82 426.7 L1031.33 426.7 L1032.85 426.7 L1034.36 426.7 L1035.88 426.7 L1037.39 426.7 L1038.9 426.7 L1040.42 426.7 L1041.93 426.7 L1043.45 426.7 L1044.97 426.7 L1046.48 426.7 L1048 426.7 L1049.51 425.3 L1051.03 423.88 L1052.54 413.93 L1054.06 405.2 L1055.57 382.7 L1057.09 359.51 L1058.6 333.75 L1060.12 305.24 L1061.63 293.96 L1063.14 290.18 L1064.66 282.81 L1066.17 274.72 L1067.69 270.69 L1069.2 267.84 L1070.72 264.92 L1072.24 261.04 L1073.75 259.6 L1075.27 257.89 L1076.78 255.73 L1078.3 250.88 L1079.81 249.43 L1081.33 247.27 L1082.84 246.02 L1084.36 244.08 L1085.87 240.69 L1087.38 237.03 L1088.9 234.98 L1090.41 232.51 L1091.93 230.45 L1093.44 228.05 L1094.96 226.48 L1096.48 224.16 L1097.99 222.56 L1099.51 222.13 L1101.02 220.29 L1102.54 217.4 L1104.05 215.17 L1105.57 213.16 L1107.08 210.42 L1108.6 208.24 L1110.11 205.88 L1111.62 204.64 L1113.14 204.92 L1114.65 201.88 L1116.17 198.99 L1117.68 197.08 L1119.2 195.81 L1120.72 196.01 L1122.23 195.11 L1123.75 192.55 L1125.26 193.37 L1126.78 191.38 L1128.29 191.66 L1129.81 189 L1131.32 188.89 L1132.84 185.42 L1134.35 183.79 L1135.87 183.46 L1137.38 183.61 L1138.89 181.52 L1140.41 177.08 L1141.92 178.42 L1143.44 176.92 L1144.95 175.27 L1146.47 174.27 L1147.99 177.98 L1149.5 173.52 L1151.02 172.1 L1152.53 174.17 L1154.05 172.64 L1155.56 171.65 L1157.08 172.57 L1158.59 171.42 L1160.11 170.57 L1161.62 171.04 L1163.13 168.92 L1164.65 166.41 L1166.16 165.98 L1167.68 164.8 L1169.19 165.23 L1170.71 162.05 L1172.22 160.08 L1173.74 162.92 L1175.26 159.75 L1176.77 158.03 L1178.29 161.6 L1179.8 159.09 L1181.32 160.81 L1182.83 158.51 L1184.35 157 L1185.86 156.33 L1187.38 157.2 L1188.89 156.8 L1190.4 154.58 L1191.92 154.33 L1193.43 150.85 L1194.95 152.42 L1196.47 147.94 L1197.98 150.25 L1199.5 151.56 L1201.01 151.97 L1202.53 152.8 L1204.04 146.62 L1205.56 150.5 L1207.07 150.72 L1208.59 149.7 L1210.1 145.65 L1211.62 147.45 L1213.13 149.45 L1214.64 142.79 L1216.16 145.75 L1217.67 146.29 L1219.19 142.43 L1220.7 144.13 L1222.22 140.55 L1223.74 140.45 L1225.25 139.99 L1226.77 141.36 L1228.28 140.4 L1229.8 141.83 L1231.31 137.98 L1232.83 138.96 L1234.34 140.4 L1235.86 139.16 L1237.37 135.25 L1238.88 138.31 L1240.4 135.77 L1241.91 136.96 L1243.43 136.45 L1244.95 137.74 L1246.46 135.4 L1247.97 131.49 L1249.49 132 L1251.01 135.42 L1252.52 133.28 L1254.04 135.44 L1255.55 133.49 L1257.07 131.12 L1258.58 133.88 L1260.1 129.95 L1261.61 127.18 L1263.12 134.06 L1264.64 126.37 L1266.15 130.43 L1267.67 130.44 L1269.18 128.49 L1270.7 122.81 L1272.22 130.11 L1273.73 122.45 L1275.24 122.21 L1276.76 124.52 L1278.28 127.33 L1279.79 125.38 L1281.31 126.42 L1282.82 122.41 L1284.34 122.81 L1285.85 119.64 L1287.37 121.64 L1288.88 123.89 L1290.39 120.93 L1291.91 122.79 L1293.42 119.37 L1294.94 118.94 L1296.45 120.39 L1297.97 119.33 L1299.49 121.24 L1301 119.66 L1302.52 123.81 L1304.03 117.74 L1305.55 117.34 L1307.06 114.68 L1308.58 117.45 L1310.09 119.06 L1311.61 114.62 L1313.12 116.32 L1314.63 118.24 L1316.15 115.48 L1317.66 114.04 L1319.18 118.06 L1320.7 115.21 L1322.21 115.77 L1323.72 117.71 L1325.24 117.33 L1326.76 112.69 L1328.27 111.87 L1329.79 113.91 L1331.3 112.41 L1332.82 107.02 L1334.33 115.96 L1335.85 112.05 L1337.36 113.87 L1338.88 108.07 L1340.39 114.94 L1341.9 109.23 L1343.42 110.36 L1344.93 106.34 L1346.45 109.66 L1347.97 109.21 L1349.48 109.08 L1350.99 110.62 L1352.51 109.26 L1354.03 111.65 L1355.54 107.2 L1357.06 105.37 L1358.57 107.9 L1360.09 109.48 L1361.6 110.96 L1363.12 109.41 L1364.63 101.63 L1366.14 107.55 L1367.66 110.39 L1369.17 106.03 L1370.69 104.05 L1372.2 106.14 L1373.72 103.49 L1375.24 106.5 L1376.75 104.31 L1378.27 108.08 L1379.78 105.19 L1381.3 101.38 L1382.81 105.13 L1384.33 105.05 L1385.84 102.09 L1387.36 102.26 L1388.87 98.59 L1390.38 104.58 L1391.9 101.65 L1393.41 98.63 L1394.93 99.2 L1396.44 102.03 L1397.96 103.8 L1399.47 102.08 L1400.99 103.04 L1402.51 99.95 L1404.02 99.39 L1405.54 103.52 L1407.05 102.6 L1408.57 101.39 L1410.08 103.67 L1411.6 99.21 L1413.11 100 L1414.62 102.53 L1416.14 103.85 L1417.65 100.16 L1419.17 103.12 L1420.68 98.56 L1422.2 100.12 L1423.72 98.94 L1425.23 96.06 L1426.74 99.46 L1428.26 100.64 L1429.78 98.48 L1431.29 98.53 L1432.81 101.2 L1434.32 96.08 L1435.84 95.5 L1437.35 97 L1438.87 95.86 L1440.38 100.59 L1441.89 98.51 L1443.41 96.18 L1444.92 96.51 L1446.44 102.96 L1447.95 96.22 L1449.47 95.77 L1450.99 97.65 L1452.5 98.13 L1454.01 97.19 L1455.53 94.89 L1457.05 94.26 L1458.56 97.44 L1460.08 96.06 L1461.59 92.89 L1463.11 98.11 L1464.62 97.31 L1466.13 95.33 L1467.65 95.25 L1469.16 96.13 L1470.68 94.34 L1472.19 93.04 L1473.71 96.16 L1475.22 92.77 L1476.74 96.2 L1478.26 92.67 L1479.77 95.17 L1481.28 95.05 L1482.8 98.61 L1484.32 93.1 L1485.83 92.33 L1487.35 93.69 L1488.86 92.68 L1490.38 93.59 L1491.89 95.41 L1493.4 95.98 L1494.92 97.57 L1496.43 92.91 L1497.95 99.22 L1499.47 97.88 L1500.98 93.6 L1502.49 89.49 L1504.01 93.54 L1505.53 93.68 L1507.04 89.03 L1508.56 93.39 L1510.07 92.72 L1511.59 91.46 L1513.1 94 L1514.62 94.57 L1516.13 91.59 L1517.64 92.8 L1519.16 90.97 L1520.67 90.51 L1522.19 91.94 L1523.7 92.56 L1525.22 90.28 L1526.74 86.93 L1528.25 92.03 L1529.76 87.66 L1531.28 90.71 L1532.8 93.64 L1534.31 90.01 L1535.83 87.57 L1537.34 86.83 L1538.86 91.78 L1540.37 89.64 L1541.88 90.81 L1543.4 91.65 L1544.91 89.91 L1546.43 89.53 L1547.95 88.43 L1549.46 84.48 L1550.97 87.57 L1552.49 90.43 L1554.01 90.34 L1555.52 91.55 L1557.03 90.66 L1558.55 91.2 L1560.07 92.4 L1561.58 89.22 L1563.1 90.35 L1564.61 87.85 L1566.12 92.75 L1567.64 90.97 L1569.15 91.83 L1570.67 93.83 L1572.18 92.95" fill="none" stroke="#ff7f0e" stroke-width="2.6" stroke-linejoin="round" stroke-linecap="square"/>
<rect x="1388.7" y="371.7" width="197" height="106.7" rx="6.5" ry="6.5" fill="#fff" fill-opacity="0.8" stroke="#ccc" stroke-opacity="0.8" stroke-width="1.7"/>
<line x1="1400.7" y1="398.3" x2="1468.7" y2="398.3" stroke="#1f77b4" stroke-width="2.6" stroke-linecap="butt"/>
<line x1="1400.7" y1="446.4" x2="1468.7" y2="446.4" stroke="#ff7f0e" stroke-width="2.6" stroke-linecap="butt"/>
<text x="1494.2" y="409.9" class="t">Test</text>
<text x="1494.2" y="458.1" class="t">Train</text>
<text transform="translate(832.9 32.4) rotate(0.03) scale(1 1.048)" class="pl">B</text>
<line x1="967.7" y1="1105.5" x2="967.7" y2="1111.55" class="tk"/>
<text x="967.7" y="1143" class="t" text-anchor="middle">0</text>
<line x1="1043.45" y1="1105.5" x2="1043.45" y2="1111.55" class="tk"/>
<text x="1043.45" y="1143" class="t" text-anchor="middle">50</text>
<line x1="1119.2" y1="1105.5" x2="1119.2" y2="1111.55" class="tk"/>
<text x="1119.2" y="1143" class="t" text-anchor="middle">100</text>
<line x1="1194.95" y1="1105.5" x2="1194.95" y2="1111.55" class="tk"/>
<text x="1194.95" y="1143" class="t" text-anchor="middle">150</text>
<line x1="1270.7" y1="1105.5" x2="1270.7" y2="1111.55" class="tk"/>
<text x="1270.7" y="1143" class="t" text-anchor="middle">200</text>
<line x1="1346.45" y1="1105.5" x2="1346.45" y2="1111.55" class="tk"/>
<text x="1346.45" y="1143" class="t" text-anchor="middle">250</text>
<line x1="1422.2" y1="1105.5" x2="1422.2" y2="1111.55" class="tk"/>
<text x="1422.2" y="1143" class="t" text-anchor="middle">300</text>
<line x1="1497.95" y1="1105.5" x2="1497.95" y2="1111.55" class="tk"/>
<text x="1497.95" y="1143" class="t" text-anchor="middle">350</text>
<line x1="1573.7" y1="1105.5" x2="1573.7" y2="1111.55" class="tk"/>
<text x="1573.7" y="1143" class="t" text-anchor="middle">400</text>
<line x1="931.45" y1="1096.42" x2="937.5" y2="1096.42" class="tk"/>
<text x="924.1" y="1108.37" class="t" text-anchor="end">0.4</text>
<line x1="931.45" y1="1009.08" x2="937.5" y2="1009.08" class="tk"/>
<text x="924.1" y="1021.03" class="t" text-anchor="end">0.6</text>
<line x1="931.45" y1="921.74" x2="937.5" y2="921.74" class="tk"/>
<text x="924.1" y="933.69" class="t" text-anchor="end">0.8</text>
<line x1="931.45" y1="834.4" x2="937.5" y2="834.4" class="tk"/>
<text x="924.1" y="846.35" class="t" text-anchor="end">1.0</text>
<line x1="931.45" y1="747.06" x2="937.5" y2="747.06" class="tk"/>
<text x="924.1" y="759.01" class="t" text-anchor="end">1.2</text>
<line x1="931.45" y1="659.72" x2="937.5" y2="659.72" class="tk"/>
<text x="924.1" y="671.67" class="t" text-anchor="end">1.4</text>
<rect x="937.5" y="654.9" width="665" height="450.6" class="fr"/>
<text x="1270" y="643.7" class="ti" text-anchor="middle">Non-Pretrained AlexNet, run 49</text>
<text x="1270" y="1182.4" class="t" text-anchor="middle">Epoch</text>
<text transform="translate(861 882.4) rotate(-90)" class="t" text-anchor="middle">Loss</text>
<path d="M967.7 685.9 L969.22 719.71 L970.73 738.24 L972.25 751.4 L973.76 759.2 L975.28 767 L976.79 771.55 L978.31 776.09 L979.82 780.64 L981.34 783.4 L982.85 785.4 L984.37 787.4 L985.88 789.4 L987.4 791.4 L988.91 792.66 L990.43 793.6 L991.94 794.54 L993.46 795.48 L994.97 796.42 L996.49 797.35 L998 798.22 L999.52 798.44 L1001.03 798.66 L1002.55 798.87 L1004.06 799.09 L1005.58 799.31 L1007.09 799.52 L1008.61 799.74 L1010.12 799.96 L1011.63 800.18 L1013.15 800.4 L1014.67 800.62 L1016.18 800.84 L1017.7 801.06 L1019.21 801.28 L1020.73 801.5 L1022.24 801.72 L1023.75 801.94 L1025.27 802.16 L1026.79 802.72 L1028.3 803.37 L1029.82 804.02 L1031.33 804.68 L1032.85 805.33 L1034.36 805.98 L1035.88 806.74 L1037.39 807.94 L1038.9 809.14 L1040.42 810.34 L1041.93 811.54 L1043.45 812.95 L1044.97 815.21 L1046.48 817.48 L1048 819.74 L1049.51 822 L1051.03 826.58 L1052.54 831.17 L1054.06 838.29 L1055.57 847.12 L1057.09 858.59 L1058.6 871.08 L1060.12 886.46 L1061.63 897.84 L1063.14 904.72 L1064.66 909.09 L1066.17 915.03 L1067.69 920.5 L1069.2 928.33 L1070.72 928.14 L1072.24 931.18 L1073.75 934.27 L1075.27 936.27 L1076.78 937.53 L1078.3 938.12 L1079.81 940.8 L1081.33 945.47 L1082.84 945.53 L1084.36 946.48 L1085.87 947 L1087.38 950.25 L1088.9 943.17 L1090.41 949.24 L1091.93 956.98 L1093.44 957.09 L1094.96 959.49 L1096.48 962.66 L1097.99 964.19 L1099.51 967.53 L1101.02 968.17 L1102.54 970.19 L1104.05 974.14 L1105.57 975.37 L1107.08 979.91 L1108.6 979.72 L1110.11 980.47 L1111.62 983.47 L1113.14 985.53 L1114.65 982.24 L1116.17 986.39 L1117.68 987.38 L1119.2 993.04 L1120.72 989.76 L1122.23 994.86 L1123.75 989.49 L1125.26 993.67 L1126.78 997.62 L1128.29 994.95 L1129.81 999.74 L1131.32 992.23 L1132.84 998.86 L1134.35 1000.31 L1135.87 1000.62 L1137.38 997.96 L1138.89 1004.92 L1140.41 997.91 L1141.92 1007.84 L1143.44 1006.62 L1144.95 1008.9 L1146.47 1005.96 L1147.99 1004.06 L1149.5 1006.07 L1151.02 1006.62 L1152.53 1009.9 L1154.05 1007.86 L1155.56 1010.23 L1157.08 1010.83 L1158.59 1013.77 L1160.11 1004.98 L1161.62 1009.81 L1163.13 1013.41 L1164.65 1014.06 L1166.16 1011.34 L1167.68 1012.79 L1169.19 1013.9 L1170.71 1015.16 L1172.22 1013.93 L1173.74 1014.37 L1175.26 1013.74 L1176.77 1016.38 L1178.29 1021.8 L1179.8 1016.13 L1181.32 1021.89 L1182.83 1025.14 L1184.35 1021.07 L1185.86 1027.49 L1187.38 1021.36 L1188.89 1026.85 L1190.4 1022.84 L1191.92 1020.3 L1193.43 1025.12 L1194.95 1029.88 L1196.47 1023.82 L1197.98 1027.28 L1199.5 1023.75 L1201.01 1024.51 L1202.53 1028.57 L1204.04 1027.3 L1205.56 1029.78 L1207.07 1032.14 L1208.59 1025.98 L1210.1 1027.76 L1211.62 1030.19 L1213.13 1036.78 L1214.64 1030.1 L1216.16 1030.13 L1217.67 1033.23 L1219.19 1038.35 L1220.7 1031.7 L1222.22 1033.06 L1223.74 1034.61 L1225.25 1037.15 L1226.77 1041.61 L1228.28 1032.97 L1229.8 1032.46 L1231.31 1037.98 L1232.83 1039.61 L1234.34 1032.76 L1235.86 1037.74 L1237.37 1042.61 L1238.88 1039.21 L1240.4 1042.55 L1241.91 1042.33 L1243.43 1044.24 L1244.95 1044.27 L1246.46 1044.41 L1247.97 1047.69 L1249.49 1043.43 L1251.01 1045.89 L1252.52 1049.22 L1254.04 1045.27 L1255.55 1046.39 L1257.07 1045.97 L1258.58 1046.08 L1260.1 1054.69 L1261.61 1051.1 L1263.12 1055.51 L1264.64 1053.03 L1266.15 1051.87 L1267.67 1051.51 L1269.18 1053.59 L1270.7 1053.36 L1272.22 1056.47 L1273.73 1052.11 L1275.24 1055.37 L1276.76 1056.61 L1278.28 1055.19 L1279.79 1055.64 L1281.31 1058.2 L1282.82 1058.68 L1284.34 1057.34 L1285.85 1058.03 L1287.37 1057.01 L1288.88 1060.47 L1290.39 1059.07 L1291.91 1055.54 L1293.42 1059.3 L1294.94 1062.17 L1296.45 1061.64 L1297.97 1058.86 L1299.49 1063.6 L1301 1063.62 L1302.52 1064 L1304.03 1066.85 L1305.55 1062.21 L1307.06 1065.1 L1308.58 1063.14 L1310.09 1066.76 L1311.61 1067.5 L1313.12 1065.96 L1314.63 1066.92 L1316.15 1062.99 L1317.66 1067.13 L1319.18 1062.51 L1320.7 1071.82 L1322.21 1069.36 L1323.72 1064.9 L1325.24 1064.04 L1326.76 1068.27 L1328.27 1066.38 L1329.79 1068.05 L1331.3 1066.49 L1332.82 1068.15 L1334.33 1067.71 L1335.85 1069.24 L1337.36 1068.59 L1338.88 1070.71 L1340.39 1068.77 L1341.9 1071.11 L1343.42 1070.11 L1344.93 1070.95 L1346.45 1069.14 L1347.97 1069.28 L1349.48 1072.38 L1350.99 1070.4 L1352.51 1071.59 L1354.03 1071.91 L1355.54 1071.54 L1357.06 1072.71 L1358.57 1071.17 L1360.09 1071.46 L1361.6 1073.64 L1363.12 1071.98 L1364.63 1073.59 L1366.14 1073.58 L1367.66 1074.51 L1369.17 1073.51 L1370.69 1071.3 L1372.2 1072.55 L1373.72 1073 L1375.24 1074.86 L1376.75 1074.2 L1378.27 1073.6 L1379.78 1074.75 L1381.3 1074.18 L1382.81 1075.31 L1384.33 1075.14 L1385.84 1076.32 L1387.36 1075.77 L1388.87 1076.66 L1390.38 1075.83 L1391.9 1076.65 L1393.41 1075.89 L1394.93 1076.78 L1396.44 1076.46 L1397.96 1076.22 L1399.47 1076.02 L1400.99 1076.27 L1402.51 1077.11 L1404.02 1074.45 L1405.54 1078.08 L1407.05 1074.57 L1408.57 1076.85 L1410.08 1076.81 L1411.6 1077.98 L1413.11 1077.58 L1414.62 1077.4 L1416.14 1077.62 L1417.65 1078.59 L1419.17 1080.08 L1420.68 1078.22 L1422.2 1075.88 L1423.72 1077.62 L1425.23 1078.55 L1426.74 1081.52 L1428.26 1077.51 L1429.78 1077.98 L1431.29 1078.98 L1432.81 1078.82 L1434.32 1077.25 L1435.84 1079.59 L1437.35 1077.4 L1438.87 1078.53 L1440.38 1080.19 L1441.89 1077.62 L1443.41 1078.67 L1444.92 1080.76 L1446.44 1078.9 L1447.95 1078.19 L1449.47 1078.73 L1450.99 1080.22 L1452.5 1077.89 L1454.01 1078.9 L1455.53 1078.15 L1457.05 1078.52 L1458.56 1081.04 L1460.08 1079.74 L1461.59 1079.44 L1463.11 1080.36 L1464.62 1079.28 L1466.13 1078.84 L1467.65 1081.25 L1469.16 1081.04 L1470.68 1079.37 L1472.19 1080.98 L1473.71 1081.79 L1475.22 1080.88 L1476.74 1080.94 L1478.26 1079.26 L1479.77 1080.42 L1481.28 1078.74 L1482.8 1081.79 L1484.32 1080.55 L1485.83 1082.11 L1487.35 1080.06 L1488.86 1081.77 L1490.38 1079.36 L1491.89 1080.6 L1493.4 1081.61 L1494.92 1081.48 L1496.43 1081.12 L1497.95 1079.59 L1499.47 1082.64 L1500.98 1082.03 L1502.49 1082.57 L1504.01 1082.62 L1505.53 1081.17 L1507.04 1082 L1508.56 1084.34 L1510.07 1080.89 L1511.59 1082.2 L1513.1 1081.29 L1514.62 1083.68 L1516.13 1082.15 L1517.64 1080.99 L1519.16 1081.49 L1520.67 1080.74 L1522.19 1079.92 L1523.7 1079.54 L1525.22 1081.6 L1526.74 1081.26 L1528.25 1082.61 L1529.76 1081.67 L1531.28 1082.77 L1532.8 1084.37 L1534.31 1081.42 L1535.83 1081.41 L1537.34 1083.67 L1538.86 1085.08 L1540.37 1081.85 L1541.88 1081.06 L1543.4 1082.51 L1544.91 1082.43 L1546.43 1083.59 L1547.95 1081.83 L1549.46 1082.67 L1550.97 1082.65 L1552.49 1081.4 L1554.01 1081.44 L1555.52 1083.52 L1557.03 1083.65 L1558.55 1082.32 L1560.07 1084.75 L1561.58 1084.14 L1563.1 1083.7 L1564.61 1083.88 L1566.12 1083.65 L1567.64 1083.33 L1569.15 1082.77 L1570.67 1081.26 L1572.18 1080.5" fill="none" stroke="#1f77b4" stroke-width="2.6" stroke-linejoin="round" stroke-linecap="square"/>
<path d="M967.7 674.2 L969.22 716.75 L970.73 735.98 L972.25 749.62 L973.76 757.66 L975.28 765.7 L976.79 770.28 L978.31 774.85 L979.82 779.43 L981.34 782.21 L982.85 784.23 L984.37 786.25 L985.88 788.27 L987.4 790.29 L988.91 791.57 L990.43 792.52 L991.94 793.48 L993.46 794.43 L994.97 795.39 L996.49 796.34 L998 797.22 L999.52 797.43 L1001.03 797.63 L1002.55 797.83 L1004.06 798.04 L1005.58 798.24 L1007.09 798.45 L1008.61 798.65 L1010.12 798.86 L1011.63 799.02 L1013.15 799.17 L1014.67 799.32 L1016.18 799.47 L1017.7 799.62 L1019.21 799.77 L1020.73 799.92 L1022.24 800.07 L1023.75 800.22 L1025.27 800.37 L1026.79 800.78 L1028.3 801.25 L1029.82 801.72 L1031.33 802.18 L1032.85 802.65 L1034.36 803.12 L1035.88 803.7 L1037.39 804.7 L1038.9 805.7 L1040.42 806.7 L1041.93 807.7 L1043.45 808.86 L1044.97 810.64 L1046.48 812.43 L1048 814.21 L1049.51 816 L1051.03 820.21 L1052.54 824.42 L1054.06 831.43 L1055.57 840.31 L1057.09 853.16 L1058.6 867.29 L1060.12 884.75 L1061.63 900.9 L1063.14 910.93 L1064.66 918.14 L1066.17 922.29 L1067.69 926.18 L1069.2 931.38 L1070.72 933.64 L1072.24 936.25 L1073.75 939 L1075.27 941.25 L1076.78 943.6 L1078.3 945.76 L1079.81 948.4 L1081.33 949.88 L1082.84 951.31 L1084.36 952.31 L1085.87 953.94 L1087.38 954.98 L1088.9 957.92 L1090.41 958.19 L1091.93 960.95 L1093.44 962.84 L1094.96 962.79 L1096.48 964.04 L1097.99 965.65 L1099.51 968.36 L1101.02 968.07 L1102.54 970.01 L1104.05 970.69 L1105.57 972.03 L1107.08 974.64 L1108.6 973.46 L1110.11 975.56 L1111.62 976.83 L1113.14 978.49 L1114.65 977.44 L1116.17 980.68 L1117.68 980.87 L1119.2 982.17 L1120.72 982.24 L1122.23 981.39 L1123.75 983.25 L1125.26 985.58 L1126.78 985.66 L1128.29 986.45 L1129.81 989.09 L1131.32 990.16 L1132.84 988.59 L1134.35 991.22 L1135.87 987.96 L1137.38 988.57 L1138.89 992.15 L1140.41 991.68 L1141.92 993.19 L1143.44 993.79 L1144.95 993.85 L1146.47 995.28 L1147.99 995.42 L1149.5 994.41 L1151.02 996.83 L1152.53 997.47 L1154.05 999.78 L1155.56 997.49 L1157.08 999.31 L1158.59 999.54 L1160.11 1000.5 L1161.62 1002.97 L1163.13 1002.37 L1164.65 1002.2 L1166.16 1003.5 L1167.68 1004.8 L1169.19 1003.72 L1170.71 1005.13 L1172.22 1007.61 L1173.74 1007.61 L1175.26 1007.39 L1176.77 1007.63 L1178.29 1008.64 L1179.8 1007.83 L1181.32 1010.77 L1182.83 1010.62 L1184.35 1010.87 L1185.86 1009.89 L1187.38 1010.92 L1188.89 1012.6 L1190.4 1012.79 L1191.92 1012.49 L1193.43 1013.94 L1194.95 1015.48 L1196.47 1013.19 L1197.98 1013.9 L1199.5 1013.86 L1201.01 1013.91 L1202.53 1017.76 L1204.04 1017.8 L1205.56 1018.05 L1207.07 1016.01 L1208.59 1016.76 L1210.1 1018.95 L1211.62 1018.9 L1213.13 1020.34 L1214.64 1019.48 L1216.16 1022.31 L1217.67 1024.87 L1219.19 1025.04 L1220.7 1025.76 L1222.22 1023.75 L1223.74 1025.8 L1225.25 1024.2 L1226.77 1027.01 L1228.28 1025.41 L1229.8 1025.83 L1231.31 1026.17 L1232.83 1029.06 L1234.34 1028.95 L1235.86 1029.34 L1237.37 1027.61 L1238.88 1030.32 L1240.4 1028.16 L1241.91 1033.65 L1243.43 1031.44 L1244.95 1032.53 L1246.46 1032.55 L1247.97 1030.56 L1249.49 1031.45 L1251.01 1034.26 L1252.52 1037.38 L1254.04 1033.43 L1255.55 1034.58 L1257.07 1036.16 L1258.58 1033.83 L1260.1 1034.27 L1261.61 1036.92 L1263.12 1038 L1264.64 1037.87 L1266.15 1041.6 L1267.67 1039.17 L1269.18 1040.52 L1270.7 1043.09 L1272.22 1043.68 L1273.73 1038.46 L1275.24 1040.9 L1276.76 1043.9 L1278.28 1039.95 L1279.79 1041.1 L1281.31 1040.85 L1282.82 1041.11 L1284.34 1041.88 L1285.85 1044.48 L1287.37 1046.72 L1288.88 1047.53 L1290.39 1045.33 L1291.91 1042.34 L1293.42 1045.97 L1294.94 1045.87 L1296.45 1047.42 L1297.97 1046.98 L1299.49 1044.52 L1301 1048.66 L1302.52 1044.81 L1304.03 1047.53 L1305.55 1049.61 L1307.06 1050.06 L1308.58 1052.5 L1310.09 1046.11 L1311.61 1051 L1313.12 1051.89 L1314.63 1050.46 L1316.15 1052.39 L1317.66 1049.73 L1319.18 1053.02 L1320.7 1053.11 L1322.21 1050.82 L1323.72 1051.65 L1325.24 1052.76 L1326.76 1052.26 L1328.27 1055.45 L1329.79 1054.27 L1331.3 1056.38 L1332.82 1056.31 L1334.33 1054.58 L1335.85 1054.31 L1337.36 1053.19 L1338.88 1053.6 L1340.39 1053.77 L1341.9 1055.88 L1343.42 1053.95 L1344.93 1055.75 L1346.45 1056.11 L1347.97 1055.1 L1349.48 1055.79 L1350.99 1058.73 L1352.51 1059.18 L1354.03 1055.27 L1355.54 1056.44 L1357.06 1056.33 L1358.57 1056.68 L1360.09 1059.95 L1361.6 1058.69 L1363.12 1059.85 L1364.63 1060.92 L1366.14 1057.33 L1367.66 1057.95 L1369.17 1058.53 L1370.69 1060.39 L1372.2 1058.68 L1373.72 1060.12 L1375.24 1061.19 L1376.75 1061.37 L1378.27 1060.34 L1379.78 1058.43 L1381.3 1057.31 L1382.81 1062.05 L1384.33 1061.1 L1385.84 1058.92 L1387.36 1059.84 L1388.87 1060.12 L1390.38 1058.21 L1391.9 1061.62 L1393.41 1060 L1394.93 1060.97 L1396.44 1062.87 L1397.96 1061.59 L1399.47 1062.81 L1400.99 1062.75 L1402.51 1062.22 L1404.02 1062.39 L1405.54 1065.61 L1407.05 1062.3 L1408.57 1065.49 L1410.08 1061.31 L1411.6 1064.24 L1413.11 1063.43 L1414.62 1062.04 L1416.14 1058.92 L1417.65 1066.27 L1419.17 1061.74 L1420.68 1062.2 L1422.2 1064.13 L1423.72 1064.19 L1425.23 1064.58 L1426.74 1064.04 L1428.26 1062.65 L1429.78 1065.6 L1431.29 1063.57 L1432.81 1065.03 L1434.32 1065.56 L1435.84 1066.39 L1437.35 1064.82 L1438.87 1064.81 L1440.38 1065.01 L1441.89 1063.17 L1443.41 1064.59 L1444.92 1064.39 L1446.44 1064.32 L1447.95 1066.01 L1449.47 1065.54 L1450.99 1067.93 L1452.5 1067.91 L1454.01 1063.97 L1455.53 1066.48 L1457.05 1065.23 L1458.56 1067.2 L1460.08 1066.83 L1461.59 1067.86 L1463.11 1067.21 L1464.62 1067.85 L1466.13 1066.68 L1467.65 1064.13 L1469.16 1065.82 L1470.68 1066.31 L1472.19 1066.85 L1473.71 1066.33 L1475.22 1069.6 L1476.74 1067.54 L1478.26 1069.4 L1479.77 1067.53 L1481.28 1070.03 L1482.8 1066.7 L1484.32 1068.96 L1485.83 1066.74 L1487.35 1068.97 L1488.86 1070.44 L1490.38 1066.68 L1491.89 1067.69 L1493.4 1069.13 L1494.92 1068.71 L1496.43 1067.36 L1497.95 1070.47 L1499.47 1069.21 L1500.98 1070.78 L1502.49 1069.68 L1504.01 1067.99 L1505.53 1068.87 L1507.04 1071.18 L1508.56 1067.93 L1510.07 1069.11 L1511.59 1070.46 L1513.1 1071.03 L1514.62 1070.88 L1516.13 1068.2 L1517.64 1072.54 L1519.16 1069.91 L1520.67 1070.2 L1522.19 1070.26 L1523.7 1070.06 L1525.22 1069.25 L1526.74 1070.09 L1528.25 1072.14 L1529.76 1068.99 L1531.28 1067.77 L1532.8 1071.39 L1534.31 1071.22 L1535.83 1071.75 L1537.34 1073.01 L1538.86 1070.14 L1540.37 1071.28 L1541.88 1071.74 L1543.4 1072.67 L1544.91 1072.49 L1546.43 1070.31 L1547.95 1069.73 L1549.46 1071.12 L1550.97 1069.58 L1552.49 1072.91 L1554.01 1071.17 L1555.52 1071.28 L1557.03 1070.7 L1558.55 1073.66 L1560.07 1072.24 L1561.58 1071.46 L1563.1 1072.75 L1564.61 1071.98 L1566.12 1072.86 L1567.64 1073.79 L1569.15 1071.96 L1570.67 1072.95 L1572.18 1072.97" fill="none" stroke="#ff7f0e" stroke-width="2.6" stroke-linejoin="round" stroke-linecap="square"/>
<rect x="1388.7" y="671.1" width="197" height="106.7" rx="6.5" ry="6.5" fill="#fff" fill-opacity="0.8" stroke="#ccc" stroke-opacity="0.8" stroke-width="1.7"/>
<line x1="1400.7" y1="697.7" x2="1468.7" y2="697.7" stroke="#1f77b4" stroke-width="2.6" stroke-linecap="butt"/>
<line x1="1400.7" y1="745.8" x2="1468.7" y2="745.8" stroke="#ff7f0e" stroke-width="2.6" stroke-linecap="butt"/>
<text x="1494.2" y="709.3" class="t">Test</text>
<text x="1494.2" y="757.5" class="t">Train</text>
<text transform="translate(832.9 637) rotate(0.03) scale(1 1.048)" class="pl">D</text>
</svg>
</body></html>
